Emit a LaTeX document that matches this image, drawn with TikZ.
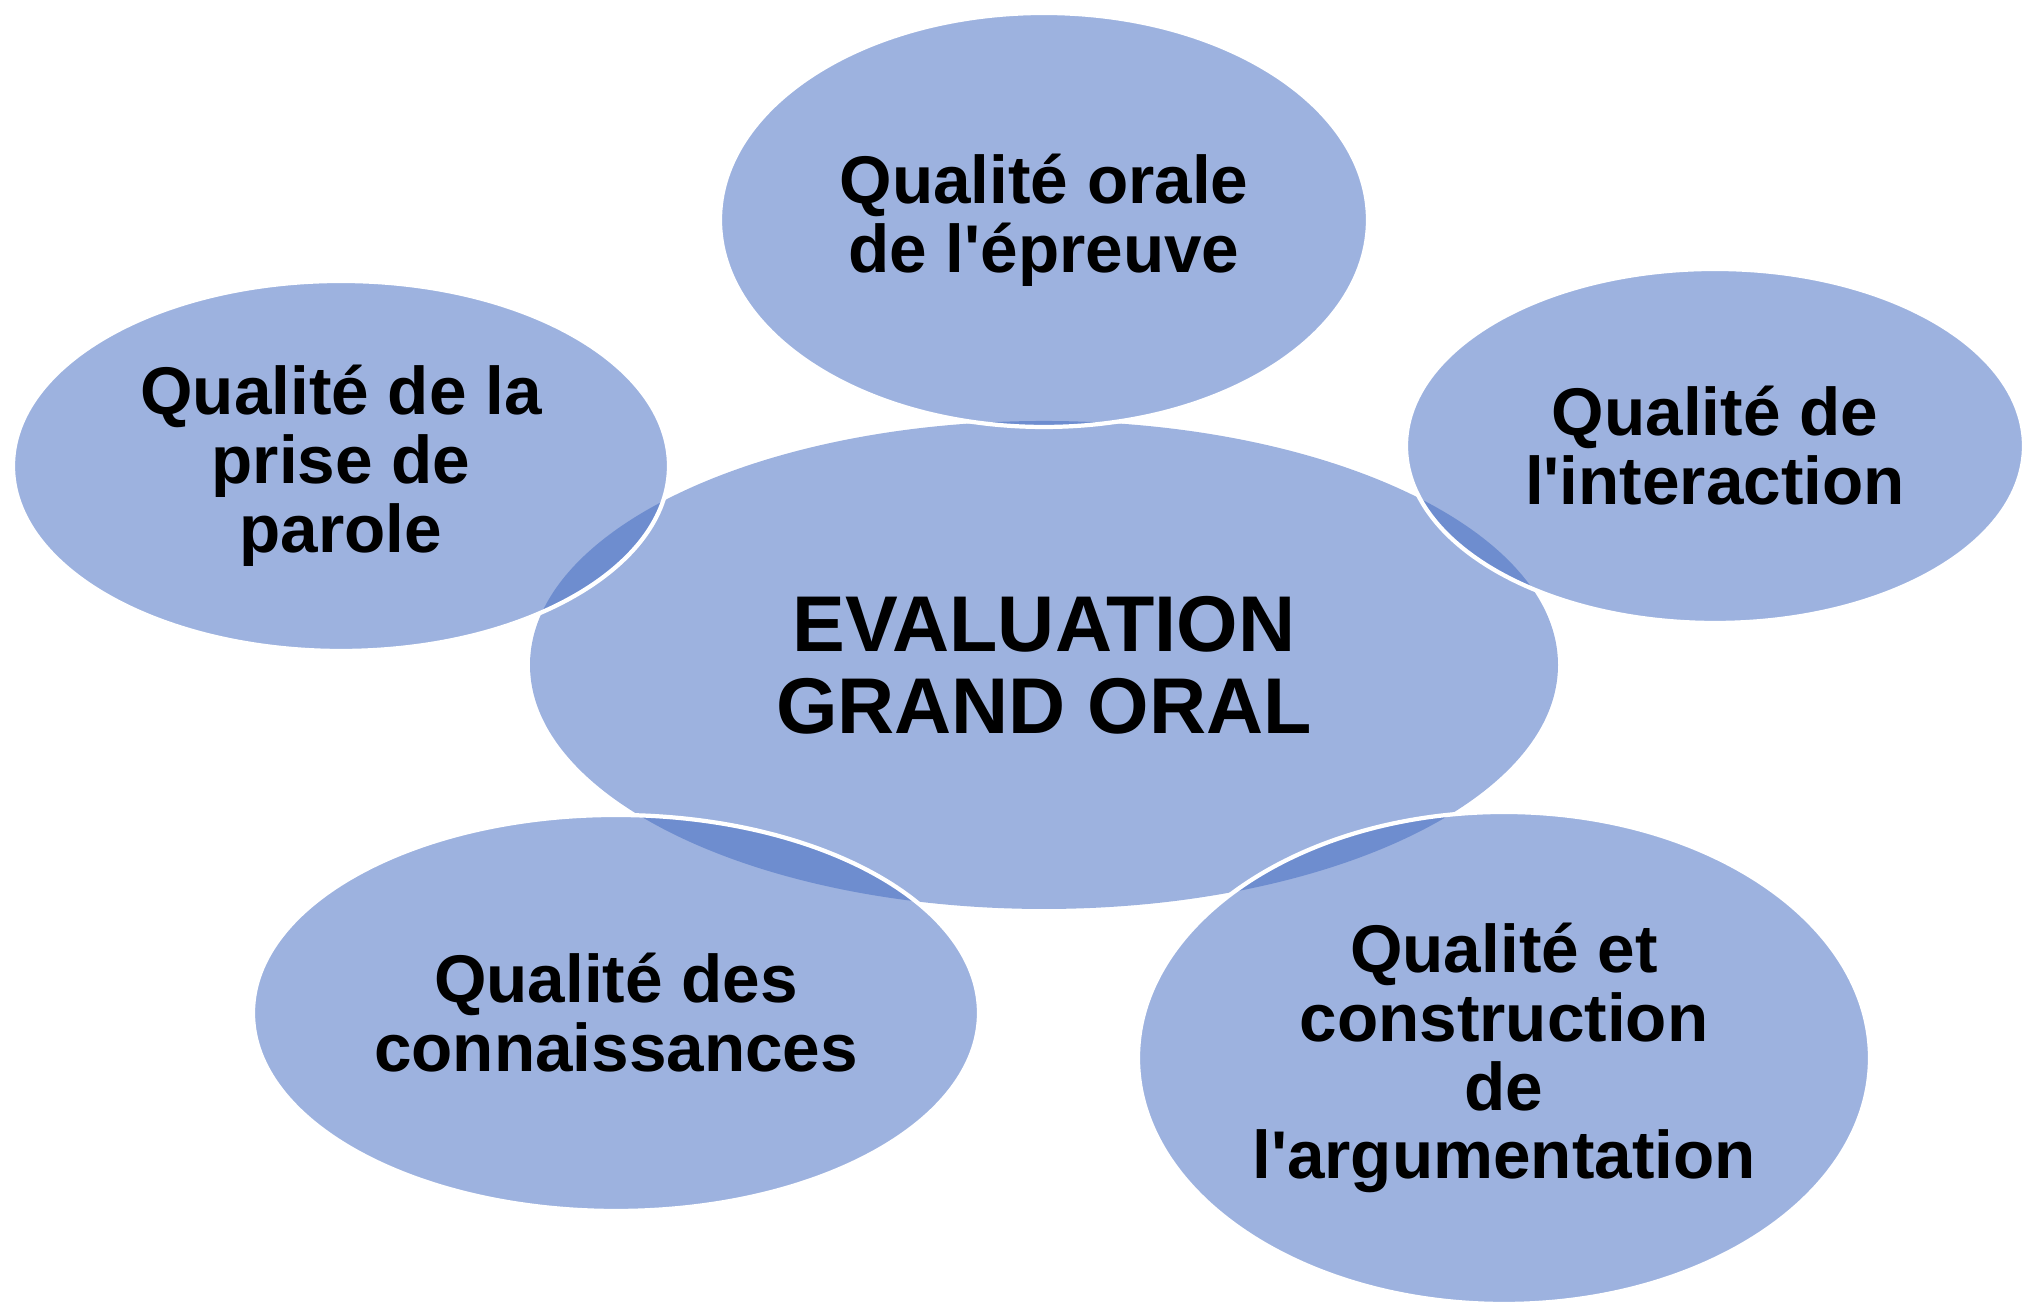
\documentclass[tikz,border=0pt]{standalone}
\usepackage{fontspec}
\setmainfont{Liberation Sans}
\usetikzlibrary{shapes.geometric}
\definecolor{bulle}{RGB}{67,107,193}

\begin{document}
\begin{tikzpicture}[
    bubble/.style={ellipse, fill=bulle, fill opacity=0.52, text opacity=1,
                   draw=white, line width=1.2pt, inner sep=0pt, align=center,
                   font=\bfseries\fontsize{19.2}{19.6}\selectfont},
    core/.style={bubble, draw=none, font=\bfseries\fontsize{22.5}{23.4}\selectfont}]
                \useasboundingbox (0,0) rectangle (20.28,13.06);
                \node[core, minimum width=10.28cm, minimum height=4.88cm] (centre) at (10.44,6.41) {EVALUATION\\GRAND ORAL};
                \node[bubble, minimum width=6.48cm, minimum height=4.14cm] (orale) at (10.44,10.86) {Qualité orale\\de l\textquotesingle épreuve};
                \node[bubble, minimum width=6.56cm, minimum height=3.70cm] (parole) at (3.41,8.40) {Qualité de la\\prise de\\parole};
                \node[bubble, minimum width=6.18cm, minimum height=3.54cm] (interaction) at (17.15,8.60) {Qualité de\\l\textquotesingle interaction};
                \node[bubble, minimum width=7.26cm, minimum height=3.96cm] (connaissances) at (6.16,2.93) {Qualité des\\connaissances};
                \node[bubble, minimum width=7.32cm, minimum height=4.92cm] (argumentation) at (15.04,2.48) {Qualité et\\construction\\de\\l\textquotesingle argumentation};
            \end{tikzpicture}
\end{document}
